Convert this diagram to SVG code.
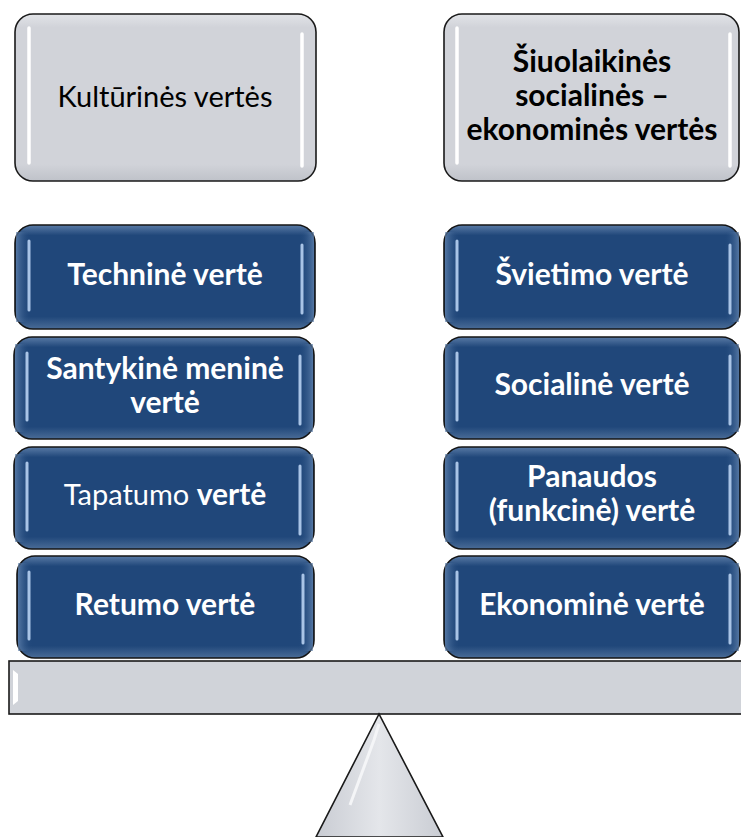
<svg xmlns="http://www.w3.org/2000/svg" width="741" height="837" viewBox="0 0 741 837">
  <defs>
    <linearGradient id="blueV" x1="0" y1="0" x2="0" y2="1">
      <stop offset="0" stop-color="#5a7ba6"/>
      <stop offset="0.1" stop-color="#20477a"/>
      <stop offset="0.88" stop-color="#20477a"/>
      <stop offset="1" stop-color="#4a6c97"/>
    </linearGradient>
    <linearGradient id="blueH" x1="0" y1="0" x2="1" y2="0">
      <stop offset="0" stop-color="#6a8bb5" stop-opacity="0.7"/>
      <stop offset="0.05" stop-color="#20477a" stop-opacity="0"/>
      <stop offset="0.95" stop-color="#20477a" stop-opacity="0"/>
      <stop offset="1" stop-color="#6a8bb5" stop-opacity="0.7"/>
    </linearGradient>
    <linearGradient id="grayV" x1="0" y1="0" x2="0" y2="1">
      <stop offset="0" stop-color="#e2e4e8"/>
      <stop offset="0.08" stop-color="#d1d3d9"/>
      <stop offset="0.9" stop-color="#d1d3d9"/>
      <stop offset="1" stop-color="#bfc2c9"/>
    </linearGradient>
    <linearGradient id="triG" x1="0" y1="0" x2="1" y2="0">
      <stop offset="0" stop-color="#c9ccd3"/>
      <stop offset="0.5" stop-color="#e4e6ea"/>
      <stop offset="1" stop-color="#c9ccd3"/>
    </linearGradient>
  </defs>
  <style>
    .gray { fill: url(#grayV); stroke: #1a1a1a; stroke-width: 1.6; }
    .blue { fill: url(#blueV); stroke: #141414; stroke-width: 1.6; }
    .edge { fill: url(#blueH); stroke: none; }
    .hlw { stroke: #ffffff; stroke-width: 3.5; stroke-linecap: round; }
    .hlb { stroke: #a9c4e6; stroke-width: 3; stroke-linecap: round; }
    text { font-family: "Lato", "Open Sans", "Liberation Sans", sans-serif; font-size: 29px; text-anchor: middle; }
    .dark { fill: #000000; }
    .light { fill: #ffffff; }
    .b { font-weight: bold; font-size: 30px; }
  </style>

  <g id="connectors"></g>

  <g id="balance">
    <rect x="9" y="661" width="740" height="53" fill="#d0d3d9" stroke="#1a1a1a" stroke-width="1.6"/>
    <path d="M13 670 L18 674 L18 701 L13 705 Z" fill="#ffffff"/>
    <path d="M379 714 L316 837 L443 837 Z" fill="url(#triG)" stroke="#1a1a1a" stroke-width="1.6"/>
    <path d="M379 724 L374 740 L350 805" stroke="#f4f5f7" stroke-width="3" fill="none"/>
  </g>

  <g id="n-kulturines">
    <rect class="gray" x="15" y="14" width="301" height="167" rx="18"/>
    <line class="hlw" x1="29" y1="28" x2="29" y2="163"/>
    <line class="hlw" x1="302" y1="34" x2="302" y2="166"/>
    <text class="dark" x="165" y="107">Kultūrinės vertės</text>
  </g>

  <g id="n-siuolaikines">
    <rect class="gray" x="444" y="14" width="295" height="167" rx="18"/>
    <line class="hlw" x1="457" y1="28" x2="457" y2="163"/>
    <line class="hlw" x1="730" y1="34" x2="730" y2="166"/>
    <text class="dark b" x="592" y="72">Šiuolaikinės</text>
    <text class="dark b" x="592" y="106">socialinės –</text>
    <text class="dark b" x="592" y="140">ekonominės vertės</text>
  </g>

  <g id="n-technine">
    <rect class="blue" x="15" y="225" width="300" height="104" rx="18"/>
    <rect class="edge" x="16" y="232" width="298" height="90"/>
    <line class="hlb" x1="29" y1="241" x2="29" y2="310"/>
    <line class="hlb" x1="302" y1="245" x2="302" y2="313"/>
    <text class="light b" x="165" y="285">Techninė vertė</text>
  </g>

  <g id="n-santykine">
    <rect class="blue" x="14" y="337" width="300" height="102" rx="18"/>
    <rect class="edge" x="15" y="344" width="298" height="88"/>
    <line class="hlb" x1="27" y1="353" x2="27" y2="420"/>
    <line class="hlb" x1="300" y1="356" x2="300" y2="424"/>
    <text class="light b" x="165" y="379">Santykinė meninė</text>
    <text class="light b" x="165" y="413">vertė</text>
  </g>

  <g id="n-tapatumo">
    <rect class="blue" x="14" y="447" width="300" height="102" rx="18"/>
    <rect class="edge" x="15" y="454" width="298" height="88"/>
    <line class="hlb" x1="27" y1="463" x2="27" y2="530"/>
    <line class="hlb" x1="300" y1="466" x2="300" y2="534"/>
    <text class="light" x="165" y="505">Tapatumo <tspan class="b">vertė</tspan></text>
  </g>

  <g id="n-retumo">
    <rect class="blue" x="17" y="556" width="297" height="102" rx="18"/>
    <rect class="edge" x="18" y="563" width="295" height="88"/>
    <line class="hlb" x1="29" y1="572" x2="29" y2="639"/>
    <line class="hlb" x1="303" y1="575" x2="303" y2="643"/>
    <text class="light b" x="165" y="615">Retumo vertė</text>
  </g>

  <g id="n-svietimo">
    <rect class="blue" x="444" y="225" width="296" height="104" rx="18"/>
    <rect class="edge" x="445" y="232" width="294" height="90"/>
    <line class="hlb" x1="457" y1="241" x2="457" y2="310"/>
    <line class="hlb" x1="730" y1="245" x2="730" y2="313"/>
    <text class="light b" x="592" y="285">Švietimo vertė</text>
  </g>

  <g id="n-socialine">
    <rect class="blue" x="444" y="337" width="296" height="102" rx="18"/>
    <rect class="edge" x="445" y="344" width="294" height="88"/>
    <line class="hlb" x1="457" y1="353" x2="457" y2="420"/>
    <line class="hlb" x1="730" y1="356" x2="730" y2="424"/>
    <text class="light b" x="592" y="395">Socialinė vertė</text>
  </g>

  <g id="n-panaudos">
    <rect class="blue" x="444" y="447" width="296" height="102" rx="18"/>
    <rect class="edge" x="445" y="454" width="294" height="88"/>
    <line class="hlb" x1="457" y1="463" x2="457" y2="530"/>
    <line class="hlb" x1="730" y1="466" x2="730" y2="534"/>
    <text class="light b" x="592" y="487">Panaudos</text>
    <text class="light b" x="592" y="521">(funkcinė) vertė</text>
  </g>

  <g id="n-ekonomine">
    <rect class="blue" x="444" y="556" width="296" height="102" rx="18"/>
    <rect class="edge" x="445" y="563" width="294" height="88"/>
    <line class="hlb" x1="457" y1="572" x2="457" y2="639"/>
    <line class="hlb" x1="730" y1="575" x2="730" y2="643"/>
    <text class="light b" x="592" y="615">Ekonominė vertė</text>
  </g>
</svg>
